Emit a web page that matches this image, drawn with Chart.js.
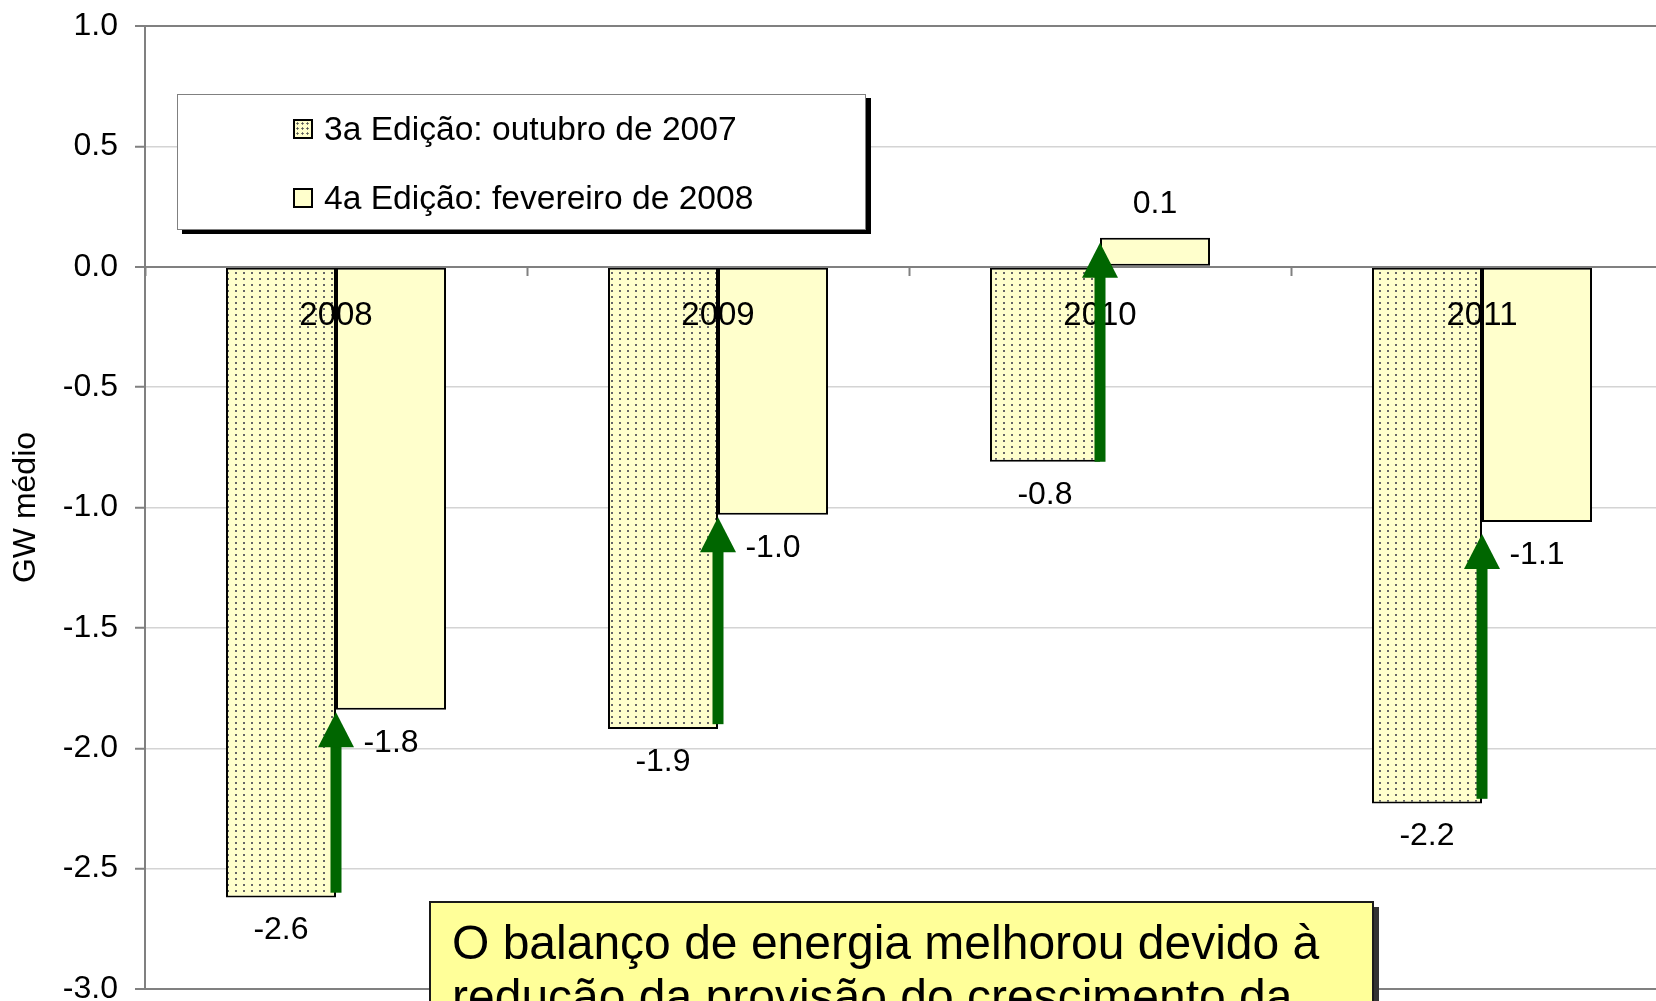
<!DOCTYPE html>
<html lang="pt">
<head>
    <meta charset="UTF-8">
    <title>Balanço de energia</title>
    <script src="https://cdn.jsdelivr.net/npm/chart.js"></script>
    <style>
        body {
            margin: 0;
            padding: 0;
            background: #ffffff;
            overflow: hidden;
            font-family: "Liberation Sans", Arial, sans-serif;
            color: #000000;
        }

        .wrap {
            position: relative;
            width: 1680px;
            height: 1040px;
        }

        .legend {
            position: absolute;
            left: 177px;
            top: 94px;
            width: 689px;
            height: 136px;
            box-sizing: border-box;
            border: 1px solid #808080;
            background: #ffffff;
            box-shadow: 5px 4px 0 #000000;
        }

        .legend .row {
            position: absolute;
            left: 115px;
            height: 40px;
            display: flex;
            align-items: center;
            font-size: 33.6px;
            white-space: nowrap;
        }

        .swatch {
            width: 20px;
            height: 20px;
            box-sizing: border-box;
            border: 2px solid #000000;
            margin-right: 11px;
            background-color: #ffffcc;
        }

        .swatch.dots {
            background-image: radial-gradient(circle, #555 0.9px, transparent 1.3px);
            background-size: 5px 5px;
        }

        .note {
            position: absolute;
            left: 429px;
            top: 901px;
            width: 945px;
            height: 200px;
            box-sizing: border-box;
            border: 2px solid #1a1a1a;
            background: #ffff99;
            box-shadow: 5px 6px 0 #333333;
            padding: 13px 0 0 21px;
            font-size: 48px;
            line-height: 54px;
            white-space: nowrap;
        }
    </style>
</head>
<body>
    <div class="wrap">
        <canvas id="chart"></canvas>
        <div class="legend" id="legend"></div>
        <div class="note">O balanço de energia melhorou devido à<br>redução da provisão do crescimento da</div>
    </div>

    <script>
        const categories = ["2008", "2009", "2010", "2011"];
        const seriesNames = ["3a Edição: outubro de 2007", "4a Edição: fevereiro de 2008"];
        const edicao3 = [-2.62, -1.92, -0.81, -2.23];
        const edicao4 = [-1.84, -1.03, 0.12, -1.06];
        // green arrows: from the 3a edition value up to the 4a edition value
        const arrowFrom = [-2.6, -1.9, -0.81, -2.21];
        const arrowTo = [-1.85, -1.04, 0.1, -1.11];

        const FONT = '"Liberation Sans", Arial, sans-serif';

        const ctx = document.getElementById("chart").getContext("2d");

        function dotPattern() {
            const c = document.createElement("canvas");
            c.width = 8;
            c.height = 6;
            const g = c.getContext("2d");
            g.fillStyle = "#ffffcc";
            g.fillRect(0, 0, 8, 6);
            g.fillStyle = "#666666";
            g.fillRect(3, 2, 2, 2);
            return ctx.createPattern(c, "repeat");
        }

        // legend html
        const legendEl = document.getElementById("legend");
        seriesNames.forEach((name, i) => {
            const row = document.createElement("div");
            row.className = "row";
            row.style.top = (i === 0 ? 14 : 83) + "px";
            row.innerHTML = '<span class="swatch' + (i === 0 ? ' dots' : '') + '"></span>' + name;
            legendEl.appendChild(row);
        });

        const annotations = {
            id: "annotations",
            afterDatasetsDraw(chart) {
                const c = chart.ctx;
                c.save();
                c.font = "32px " + FONT;
                c.fillStyle = "#000000";
                c.textAlign = "center";
                c.textBaseline = "middle";
                chart.data.datasets.forEach((ds, di) => {
                    chart.getDatasetMeta(di).data.forEach((bar, i) => {
                        const v = ds.data[i];
                        const y = v < 0 ? bar.y + 33 : bar.y - 34;
                        c.fillText(v.toFixed(1), bar.x, y);
                    });
                });
                c.restore();
            },
            afterDraw(chart) {
                const c = chart.ctx;
                const xs = chart.scales.x;
                const ys = chart.scales.y;
                c.save();
                c.fillStyle = "#006600";
                arrowFrom.forEach((from, i) => {
                    const x = xs.getPixelForValue(i);
                    const y0 = ys.getPixelForValue(from);
                    const y1 = ys.getPixelForValue(arrowTo[i]);
                    const head = 35;
                    c.fillRect(x - 5.5, y1 + head - 1, 11, y0 - y1 - head + 1);
                    c.beginPath();
                    c.moveTo(x, y1);
                    c.lineTo(x - 18, y1 + head);
                    c.lineTo(x + 18, y1 + head);
                    c.closePath();
                    c.fill();
                });
                c.restore();
            }
        };

        const gridColor = (v) => (v === 1 || v === 0 || v === -3) ? "#808080" : "#d4d4d4";

        new Chart(ctx, {
            type: "bar",
            data: {
                labels: categories,
                datasets: [
                    {
                        label: seriesNames[0],
                        data: edicao3,
                        backgroundColor: dotPattern(),
                        borderColor: "#000000",
                        borderWidth: 2,
                        borderSkipped: false,
                        categoryPercentage: 0.576,
                        barPercentage: 1.0
                    },
                    {
                        label: seriesNames[1],
                        data: edicao4,
                        backgroundColor: "#ffffcc",
                        borderColor: "#000000",
                        borderWidth: 2,
                        borderSkipped: false,
                        categoryPercentage: 0.576,
                        barPercentage: 1.0
                    }
                ]
            },
            options: {
                responsive: true,
                maintainAspectRatio: false,
                animation: false,
                layout: {
                    padding: { top: 26, right: 7, bottom: 51, left: 0 }
                },
                plugins: {
                    legend: { display: false },
                    tooltip: { enabled: false }
                },
                scales: {
                    x: {
                        type: "category",
                        position: { y: 0 },
                        offset: true,
                        grid: {
                            offset: true,
                            drawOnChartArea: false,
                            tickLength: 8,
                            tickColor: "#808080",
                            tickWidth: 2,
                            z: 1
                        },
                        border: { color: "#808080", width: 2, z: 1 },
                        ticks: {
                            z: 1,
                            color: "#000000",
                            font: { size: 33, family: FONT },
                            padding: 21,
                            maxRotation: 0,
                            autoSkip: false
                        }
                    },
                    y: {
                        min: -3,
                        max: 1,
                        afterFit: (scale) => {
                            scale.width = 145;
                            scale.paddingTop = 0;
                            scale.paddingBottom = 0;
                        },
                        grid: {
                            color: (c) => gridColor(c.tick.value),
                            lineWidth: (c) => gridColor(c.tick.value) === "#808080" ? 2 : 1.5,
                            tickColor: "#808080",
                            tickLength: 10,
                            tickWidth: 2
                        },
                        border: { color: "#808080", width: 2 },
                        ticks: {
                            stepSize: 0.5,
                            color: "#000000",
                            font: { size: 32, family: FONT },
                            padding: 17,
                            callback: (v) => Number(v).toFixed(1)
                        },
                        title: {
                            display: true,
                            text: "GW médio",
                            color: "#000000",
                            font: { size: 32, family: FONT },
                            padding: { top: 7, bottom: 0 }
                        }
                    }
                }
            },
            plugins: [annotations]
        });
    </script>
</body>
</html>
